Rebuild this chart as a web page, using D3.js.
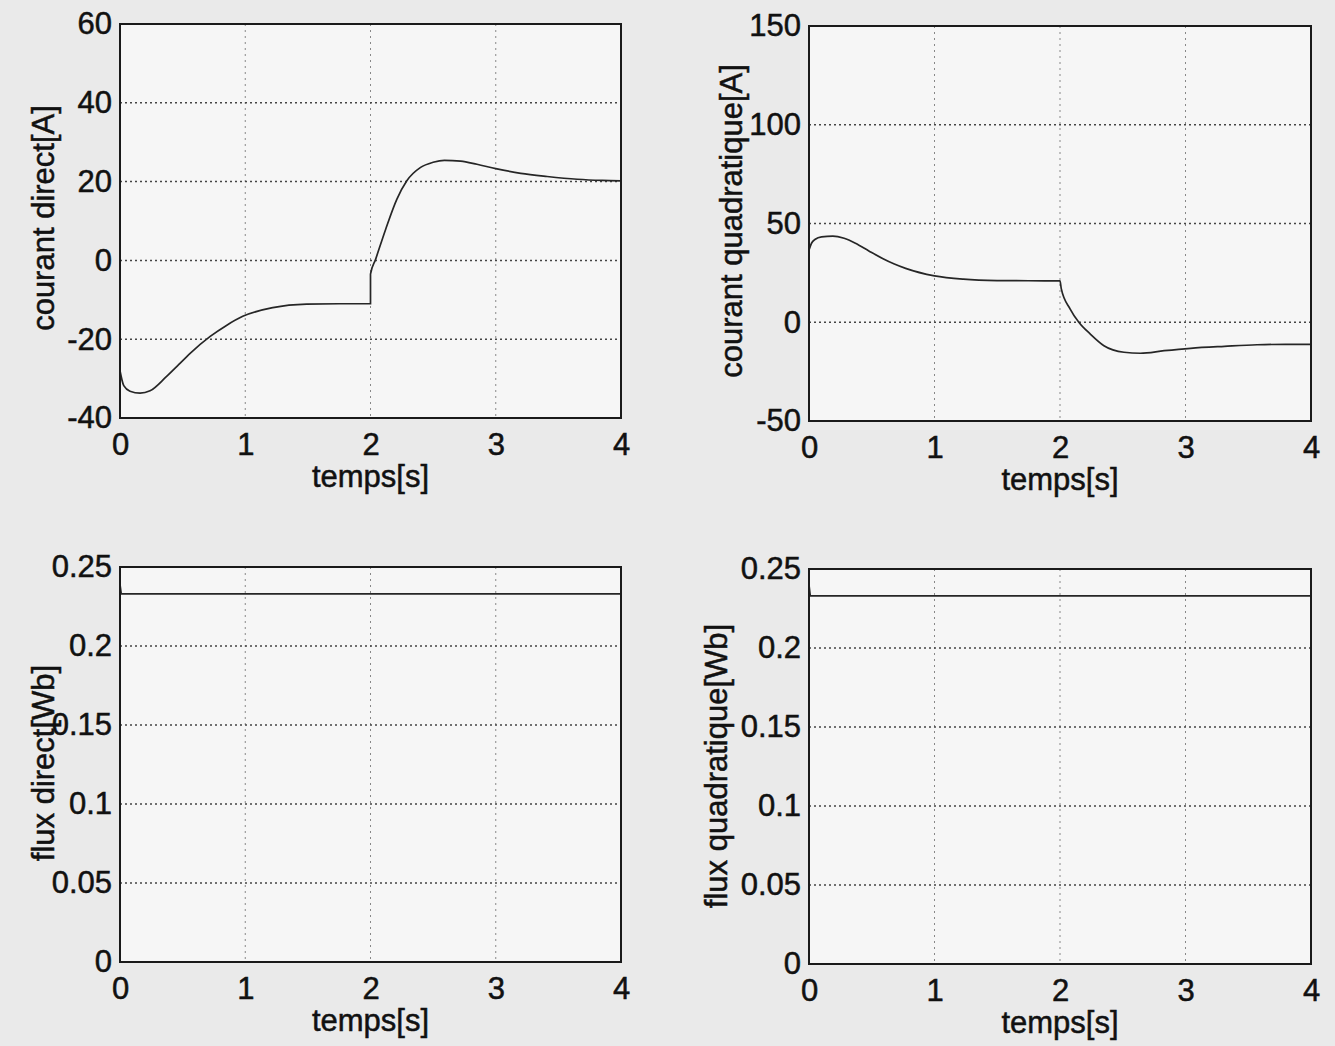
<!DOCTYPE html>
<html>
<head>
<meta charset="utf-8">
<script src="https://d3js.org/d3.v7.min.js"></script>
<style>
body { margin: 0; background: #eaeaea; }
svg { display: block; }
.tick text { font-family: "Liberation Sans", Arial, sans-serif; font-size: 31px; fill: #111; stroke: #111; stroke-width: 0.5px; }
.lbl { font-family: "Liberation Sans", Arial, sans-serif; font-size: 31px; fill: #111; stroke: #111; stroke-width: 0.5px; }
</style>
</head>
<body>
<div id="chart"></div>
<script>
// time ticks shared by all four subplots
var timeTicks = [0, 1, 2, 3, 4];

// courant direct (id)
var idTime = [0, 0.03, 0.08, 0.16, 0.24, 0.37, 0.47, 0.56, 0.72, 0.85, 0.98, 1.22, 1.49, 1.75, 2.0, 2.0, 2.04, 2.12, 2.21, 2.29, 2.4, 2.5, 2.59, 2.72, 2.85, 3.0, 3.2, 3.41, 3.65, 3.85, 4.0];
var idVal  = [-28, -31.8, -33.2, -33.7, -33.1, -29.5, -26.4, -23.6, -19.3, -16.5, -14.2, -12, -11.1, -11, -11, -3.5, 0.2, 7.8, 15.5, 20.2, 23.6, 24.9, 25.4, 25.2, 24.4, 23.3, 22.1, 21.3, 20.6, 20.3, 20.2];
var idTicks = [-40, -20, 0, 20, 40, 60];

// courant quadratique (iq)
var iqTime = [0, 0.02, 0.05, 0.1, 0.19, 0.28, 0.37, 0.48, 0.59, 0.68, 0.77, 1.0, 1.23, 1.5, 1.75, 2.0, 2.01, 2.08, 2.15, 2.24, 2.35, 2.51, 2.64, 2.83, 3.04, 3.31, 3.57, 3.8, 4.0];
var iqVal  = [36.6, 40, 42, 43.2, 43.6, 42.5, 40, 36, 32.2, 29.5, 27.3, 23.5, 21.8, 21.1, 21, 21, 17, 6.8, 0, -5.9, -11.9, -15.2, -15.7, -14.4, -13.2, -12.2, -11.4, -11.2, -11.2];
var iqTicks = [-50, 0, 50, 100, 150];

// flux direct / quadratique
var fdTime = [0, 0, 0.01, 4];
var fdVal  = [0, 0.239, 0.233, 0.233];
var fqTime = [0, 0, 0.01, 4];
var fqVal  = [0, 0.24, 0.233, 0.233];
var fluxTicks = [0, 0.05, 0.1, 0.15, 0.2, 0.25];

var svg = d3.select("#chart").append("svg")
    .attr("width", 1335)
    .attr("height", 1046);

var panels = [
  {l: 120, r: 621, t: 24,  b: 418, ticks: idTicks,   times: idTime, vals: idVal, label: "courant direct[A]",      lx: 54,  ly: 218, smooth: true},
  {l: 809, r: 1311, t: 26, b: 421, ticks: iqTicks,   times: iqTime, vals: iqVal, label: "courant quadratique[A]", lx: 742, ly: 221, smooth: true},
  {l: 120, r: 621, t: 567, b: 962, ticks: fluxTicks, times: fdTime, vals: fdVal, label: "flux direct[Wb]",        lx: 54,  ly: 763, smooth: false},
  {l: 809, r: 1311, t: 569, b: 964, ticks: fluxTicks, times: fqTime, vals: fqVal, label: "flux quadratique[Wb]",   lx: 727, ly: 766, smooth: false}
];

panels.forEach(function(p) {
  var x = d3.scaleLinear().domain([0, 4]).range([p.l, p.r]);
  var y = d3.scaleLinear().domain(d3.extent(p.ticks)).range([p.b, p.t]);
  var g = svg.append("g");

  g.append("rect")
    .attr("x", p.l).attr("y", p.t)
    .attr("width", p.r - p.l).attr("height", p.b - p.t)
    .attr("fill", "#f6f6f6");

  // dotted grid
  g.selectAll(".vg").data(timeTicks.slice(1, -1)).enter().append("line")
    .attr("x1", d => x(d)).attr("x2", d => x(d))
    .attr("y1", p.t).attr("y2", p.b)
    .attr("stroke", "#888").attr("stroke-width", 1)
    .attr("stroke-dasharray", "2,4");
  g.selectAll(".hg").data(p.ticks.slice(1, -1)).enter().append("line")
    .attr("x1", p.l).attr("x2", p.r)
    .attr("y1", d => y(d)).attr("y2", d => y(d))
    .attr("stroke", "#444").attr("stroke-width", 1.5)
    .attr("stroke-dasharray", "2,3");

  // curve
  var pts = p.times.map(function(t, i) { return [t, p.vals[i]]; });
  g.append("path")
    .datum(pts)
    .attr("fill", "none")
    .attr("stroke", "#262626")
    .attr("stroke-width", 1.7)
    .attr("d", d3.line().x(d => x(d[0])).y(d => y(d[1]))
      .curve(p.smooth ? d3.curveMonotoneX : d3.curveLinear));

  // box
  g.append("rect")
    .attr("x", p.l).attr("y", p.t)
    .attr("width", p.r - p.l).attr("height", p.b - p.t)
    .attr("fill", "none").attr("stroke", "#1a1a1a").attr("stroke-width", 2);

  // axes (labels only, MATLAB style)
  var xa = g.append("g")
    .attr("transform", "translate(0," + p.b + ")")
    .call(d3.axisBottom(x).tickValues(timeTicks).tickSize(0).tickPadding(15).tickFormat(d => d));
  var ya = g.append("g")
    .attr("transform", "translate(" + p.l + ",0)")
    .call(d3.axisLeft(y).tickValues(p.ticks).tickSize(0).tickPadding(8).tickFormat(d => d));
  xa.select(".domain").remove();
  ya.select(".domain").remove();

  g.append("text").attr("class", "lbl")
    .attr("x", (p.l + p.r) / 2).attr("y", p.b + 69)
    .attr("text-anchor", "middle")
    .text("temps[s]");

  g.append("text").attr("class", "lbl")
    .attr("transform", "translate(" + p.lx + "," + p.ly + ") rotate(-90)")
    .attr("text-anchor", "middle")
    .text(p.label);
});
</script>
</body>
</html>
